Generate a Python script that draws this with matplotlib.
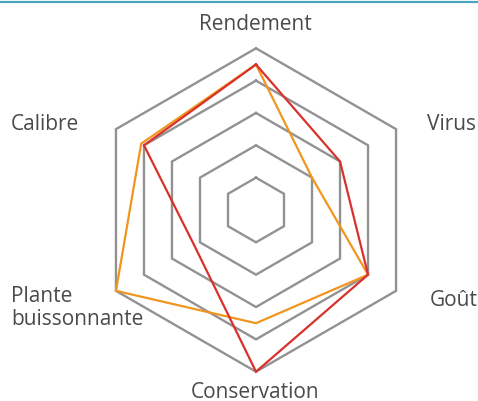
import numpy as np
import matplotlib
matplotlib.use("Agg")
import matplotlib.pyplot as plt
from matplotlib.lines import Line2D

categories = ["Rendement", "Virus", "Goût", "Conservation", "Plante\nbuissonnante", "Calibre"]
angles_deg = [90, 30, -30, -90, 210, 150]
red_values = [4.5, 3, 4, 5, 2.2, 4]
orange_values = [4.5, 2, 4, 3.5, 5, 4.1]
ring_levels = [1, 2, 3, 4, 5]

plt.rcParams['font.family'] = ['Open Sans', 'DejaVu Sans']

W, H = 478, 401
fig = plt.figure(figsize=(W / 100, H / 100), dpi=100)
ax = fig.add_axes([0, 0, 1, 1])
cx, cy, scale = 256, 210, 32.34
ax.set_xlim((0 - cx) / scale, (W - cx) / scale)
ax.set_ylim(-(H - cy) / scale, cy / scale)
ax.axis('off')

theta = np.deg2rad(angles_deg)

def poly(vals):
    v = np.asarray(vals, dtype=float)
    x = v * np.cos(theta)
    y = v * np.sin(theta)
    return np.append(x, x[0]), np.append(y, y[0])

for lv in ring_levels:
    x, y = poly([lv] * len(categories))
    ax.plot(x, y, color='#929292', lw=1.7, solid_joinstyle='miter', zorder=1)

x, y = poly(orange_values)
ax.plot(x, y, color='#f0961e', lw=1.6, solid_joinstyle='miter', zorder=2)
x, y = poly(red_values)
ax.plot(x, y, color='#d9312b', lw=1.6, solid_joinstyle='miter', zorder=3)

txt = dict(color='#4a4a4a', fontsize=15)
def px(xp, yp):
    return ((xp - cx) / scale, (cy - yp) / scale)

ax.text(*px(255, 24), categories[0], ha='center', va='center', **txt)
ax.text(*px(427, 125), categories[1], ha='left', va='center', **txt)
ax.text(*px(430, 300), categories[2], ha='left', va='center', **txt)
ax.text(*px(255, 392), categories[3], ha='center', va='center', **txt)
ax.text(*px(11, 308), categories[4], ha='left', va='center', linespacing=1.1, **txt)
ax.text(*px(11, 125), categories[5], ha='left', va='center', **txt)

fig.add_artist(Line2D([0, 1], [1 - 1.5 / H] * 2, transform=fig.transFigure,
                      color='#4aa6bd', lw=1.6))

fig.savefig("out.png", dpi=100)
